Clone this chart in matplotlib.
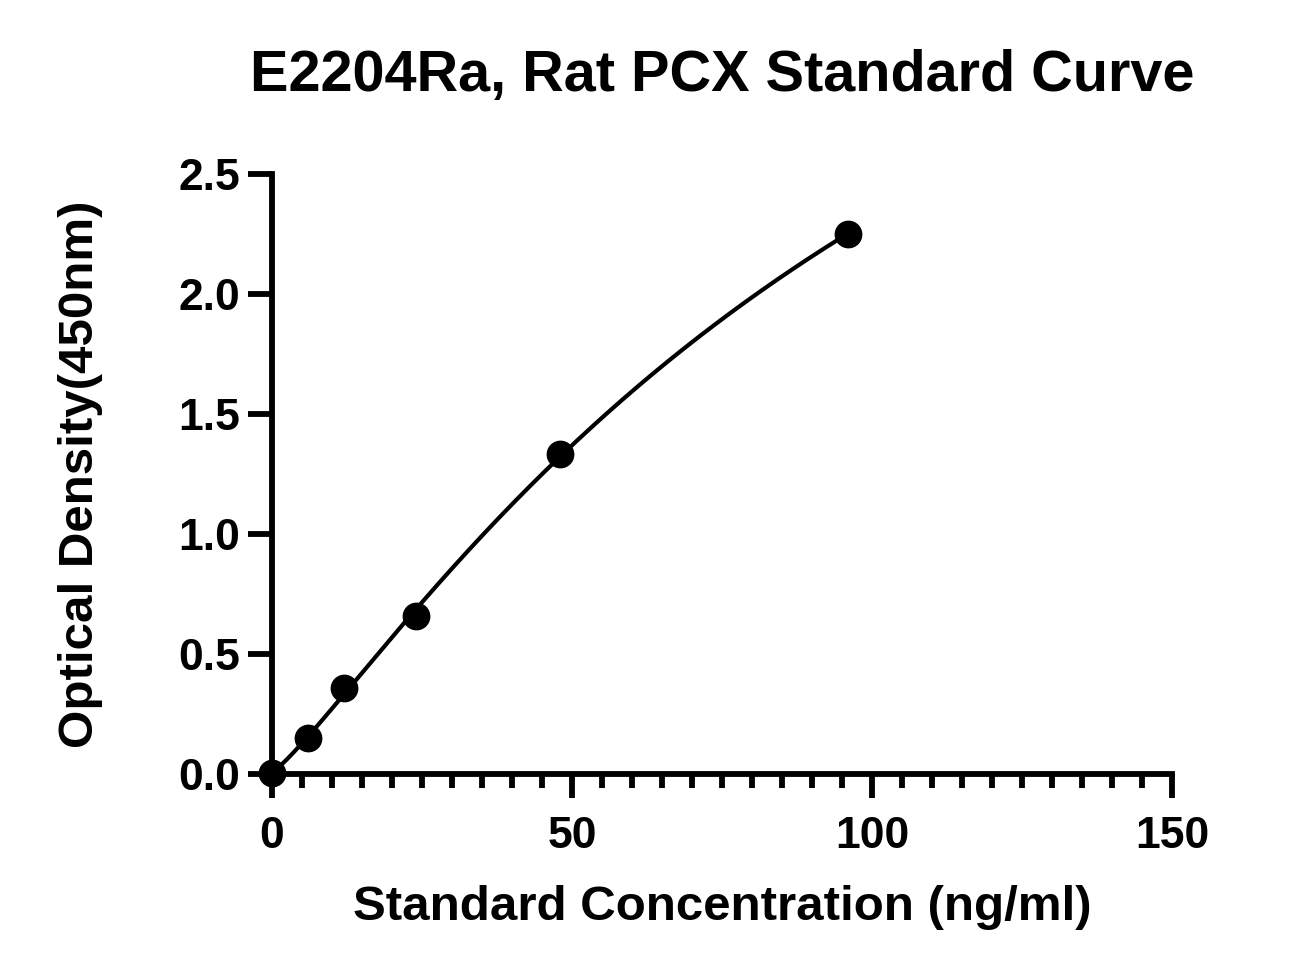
import numpy as np
import matplotlib.pyplot as plt

# standard concentrations (ng/ml) and measured OD at 450nm
conc = [0, 6, 12, 24, 48, 96]
od = [0.005, 0.15, 0.36, 0.66, 1.335, 2.25]

xticks = [0, 50, 100, 150]
yticks = [0.0, 0.5, 1.0, 1.5, 2.0, 2.5]

plt.rcParams['font.family'] = ['Liberation Sans', 'DejaVu Sans']
plt.rcParams['font.weight'] = 'bold'

# 4 parameter logistic fit: grid over b, c and least squares for a, d
x = np.array(conc, float)
y = np.array(od, float)
best = None
for b in np.linspace(1.0, 3.0, 81):
    for c in np.geomspace(20, 2000, 200):
        g = 1.0 / (1.0 + (x / c) ** b)
        A = np.column_stack([g, 1 - g])
        p, *_ = np.linalg.lstsq(A, y, rcond=None)
        err = np.sum((A @ p - y) ** 2)
        if best is None or err < best[0]:
            best = (err, b, c, p)
_, b, c, (a, d) = best

def fourpl(xv):
    return d + (a - d) / (1.0 + (xv / c) ** b)

fig = plt.figure(figsize=(13.11, 9.75), dpi=100)
ax = fig.add_axes([0.2075, 0.206, 0.6865, 0.6155])

xx = np.linspace(min(conc), max(conc), 300)
ax.plot(xx, fourpl(xx), color='black', lw=3.0, clip_on=False)
ax.plot(conc, od, 'o', color='black', markersize=19, clip_on=False, zorder=3)

ax.set_xlim(0, 150)
ax.set_ylim(0, 2.5)
ax.set_xticks(xticks)
ax.set_xticks(np.arange(0, 151, 5), minor=True)
ax.set_yticks(yticks)
ax.set_yticklabels([f"{v:.1f}" for v in yticks])

for s in ['top', 'right']:
    ax.spines[s].set_visible(False)
for s in ['left', 'bottom']:
    ax.spines[s].set_linewidth(4.2)

ax.tick_params(which='major', length=17, width=4.2, labelsize=32, pad=13)
ax.tick_params(axis='y', which='major', pad=6)
ax.tick_params(which='minor', length=10, width=4.2)
for lab in ax.get_xticklabels() + ax.get_yticklabels():
    lab.set_fontweight('bold')

ax.set_xlabel('Standard Concentration (ng/ml)', fontsize=35.5, fontweight='bold', labelpad=20)
ax.set_ylabel('Optical Density(450nm)', fontsize=35.5, fontweight='bold', labelpad=54)
ax.set_title('E2204Ra, Rat PCX Standard Curve', fontsize=41.5, fontweight='bold', pad=60)

fig.savefig('out.png', dpi=100)
